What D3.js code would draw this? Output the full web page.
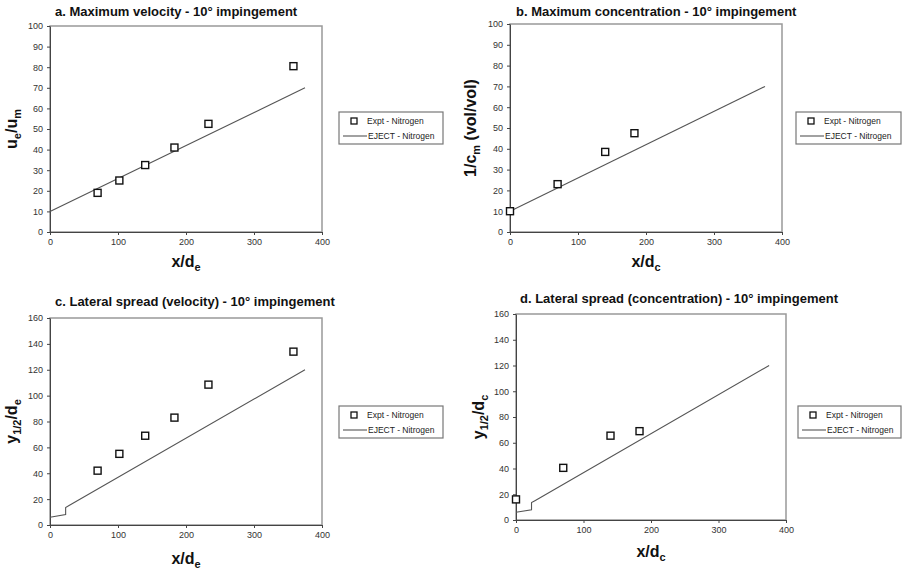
<!DOCTYPE html>
<html>
<head>
<meta charset="utf-8">
<script src="https://cdn.jsdelivr.net/npm/d3@7"></script>
<style>
  body { margin: 0; background: #fff; }
  svg { font-family: "Liberation Sans", Arial, sans-serif; }
  .tick text { fill: #333; font-size: 9px; }
  .tick line, .domain { stroke: #444; }
</style>
</head>
<body>
<div id="chart"></div>
<script>
// panel a: maximum velocity
var velX = [70, 102, 140, 183, 233, 358]
var velExpt = [19, 25, 32.5, 41, 52.5, 80.5]
var velEjectX = [0, 375]
var velEject = [10, 70]

// panel b: maximum concentration
var concX = [0, 70, 140, 183]
var concExpt = [10, 23, 38.5, 47.5]
var concEjectX = [0, 375]
var concEject = [10, 70]

// panel c: lateral spread (velocity)
var spreadVelX = [70, 102, 140, 183, 233, 358]
var spreadVelExpt = [42, 55, 69, 83, 108.5, 134]

// panel d: lateral spread (concentration)
var spreadConcX = [0, 70, 140, 183]
var spreadConcExpt = [16, 40.5, 65.5, 69]

// EJECT spread curve (same for c and d)
var spreadEjectX = [0, 23, 23, 28, 375]
var spreadEject = [6, 8, 13.5, 15, 120]

var xTicks = [0, 100, 200, 300, 400]
var yTicks100 = [0, 10, 20, 30, 40, 50, 60, 70, 80, 90, 100]
var yTicks160 = [0, 20, 40, 60, 80, 100, 120, 140, 160]

var legendLabels = ['Expt - Nitrogen', 'EJECT - Nitrogen']

var svg = d3.select('#chart').append('svg')
    .attr('width', 906)
    .attr('height', 570)

function zip(xs, ys) {
    return xs.map(function(x, i) { return { x: x, y: ys[i] } })
}

function drawPanel(p) {
    var x = d3.scaleLinear().domain([0, 400]).range([p.left, p.left + p.w])
    var y = d3.scaleLinear().domain(p.yDomain).range([p.top + p.h, p.top])

    // plot area frame
    svg.append('rect')
        .attr('x', p.left).attr('y', p.top)
        .attr('width', p.w).attr('height', p.h)
        .attr('fill', '#fff')
        .attr('stroke', '#999')
        .attr('stroke-width', 1.5)

    svg.append('g')
        .attr('transform', 'translate(0,' + (p.top + p.h) + ')')
        .call(d3.axisBottom(x).tickValues(xTicks).tickSize(3).tickPadding(4).tickSizeOuter(0))

    svg.append('g')
        .attr('transform', 'translate(' + p.left + ',0)')
        .call(d3.axisLeft(y).tickValues(p.yTicks).tickSize(3).tickPadding(4).tickSizeOuter(0))

    var line = d3.line()
        .x(function(d) { return x(d.x) })
        .y(function(d) { return y(d.y) })

    svg.append('path')
        .datum(p.eject)
        .attr('fill', 'none')
        .attr('stroke', '#555')
        .attr('stroke-width', 1.1)
        .attr('d', line)

    svg.append('g').selectAll('rect')
        .data(p.expt)
        .enter().append('rect')
        .attr('x', function(d) { return x(d.x) - 3.5 })
        .attr('y', function(d) { return y(d.y) - 3.5 })
        .attr('width', 7).attr('height', 7)
        .attr('fill', '#fff')
        .attr('stroke', '#111')
        .attr('stroke-width', 1.4)

    // title
    svg.append('text')
        .attr('x', p.titleX).attr('y', p.titleY)
        .attr('font-size', '13px').attr('font-weight', 'bold')
        .attr('fill', '#111')
        .text(p.title)

    // x axis title
    var xt = svg.append('text')
        .attr('x', p.left + p.w / 2).attr('y', p.xLabelY)
        .attr('text-anchor', 'middle')
        .attr('font-size', '16px').attr('font-weight', 'bold')
        .attr('fill', '#111')
    xt.append('tspan').text('x/d')
    xt.append('tspan').attr('font-size', '11px').attr('dy', 4).text(p.xSub)

    // y axis title
    var yt = svg.append('text')
        .attr('transform', 'translate(' + p.yLabelX + ',' + (p.top + p.h / 2) + ') rotate(-90)')
        .attr('text-anchor', 'middle')
        .attr('font-size', '16px').attr('font-weight', 'bold')
        .attr('fill', '#111')
    p.yLabel.forEach(function(part) {
        var ts = yt.append('tspan').text(part.t)
        if (part.sub) ts.attr('font-size', '11px').attr('dy', 4)
        else if (part.back) ts.attr('dy', -4)
    })

    // legend
    var lg = svg.append('g').attr('transform', 'translate(' + p.legend[0] + ',' + p.legend[1] + ')')
    lg.append('rect')
        .attr('width', p.legend[2]).attr('height', 32)
        .attr('fill', '#fff').attr('stroke', '#777').attr('stroke-width', 1.2)
    lg.append('rect')
        .attr('x', 12).attr('y', 6).attr('width', 6).attr('height', 6)
        .attr('fill', '#fff').attr('stroke', '#111').attr('stroke-width', 1.3)
    lg.append('line')
        .attr('x1', 4).attr('x2', 28).attr('y1', 24).attr('y2', 24)
        .attr('stroke', '#555').attr('stroke-width', 1.1)
    lg.selectAll('text.lab')
        .data(legendLabels)
        .enter().append('text')
        .attr('class', 'lab')
        .attr('x', function(d, i) { return i ? 29 : 28 })
        .attr('y', function(d, i) { return i ? 27 : 12 })
        .attr('font-size', '8.5px')
        .attr('fill', '#222')
        .text(function(d) { return d })
}

drawPanel({
    left: 50, top: 26, w: 272, h: 206,
    yDomain: [0, 100], yTicks: yTicks100,
    expt: zip(velX, velExpt), eject: zip(velEjectX, velEject),
    title: 'a. Maximum velocity - 10\u00b0 impingement', titleX: 55, titleY: 16,
    xSub: 'e', xLabelY: 267,
    yLabelX: 17,
    yLabel: [{ t: 'u' }, { t: 'e', sub: true }, { t: '/u', back: true }, { t: 'm', sub: true }],
    legend: [339, 112, 104]
})

drawPanel({
    left: 510, top: 24, w: 272, h: 208,
    yDomain: [0, 100], yTicks: yTicks100,
    expt: zip(concX, concExpt), eject: zip(concEjectX, concEject),
    title: 'b. Maximum concentration - 10\u00b0 impingement', titleX: 516, titleY: 16,
    xSub: 'c', xLabelY: 267,
    yLabelX: 476,
    yLabel: [{ t: '1/c' }, { t: 'm', sub: true }, { t: ' (vol/vol)', back: true }],
    legend: [796, 112, 105]
})

drawPanel({
    left: 50, top: 318, w: 272, h: 207,
    yDomain: [0, 160], yTicks: yTicks160,
    expt: zip(spreadVelX, spreadVelExpt), eject: zip(spreadEjectX, spreadEject),
    title: 'c. Lateral spread (velocity) - 10\u00b0 impingement', titleX: 55, titleY: 306,
    xSub: 'e', xLabelY: 564,
    yLabelX: 17,
    yLabel: [{ t: 'y' }, { t: '1/2', sub: true }, { t: '/d', back: true }, { t: 'e', sub: true }],
    legend: [339, 406, 104]
})

drawPanel({
    left: 516, top: 314, w: 270, h: 206,
    yDomain: [0, 160], yTicks: yTicks160,
    expt: zip(spreadConcX, spreadConcExpt), eject: zip(spreadEjectX, spreadEject),
    title: 'd. Lateral spread (concentration) - 10\u00b0 impingement', titleX: 520, titleY: 303,
    xSub: 'c', xLabelY: 557,
    yLabelX: 484,
    yLabel: [{ t: 'y' }, { t: '1/2', sub: true }, { t: '/d', back: true }, { t: 'c', sub: true }],
    legend: [798, 406, 103]
})
</script>
</body>
</html>
